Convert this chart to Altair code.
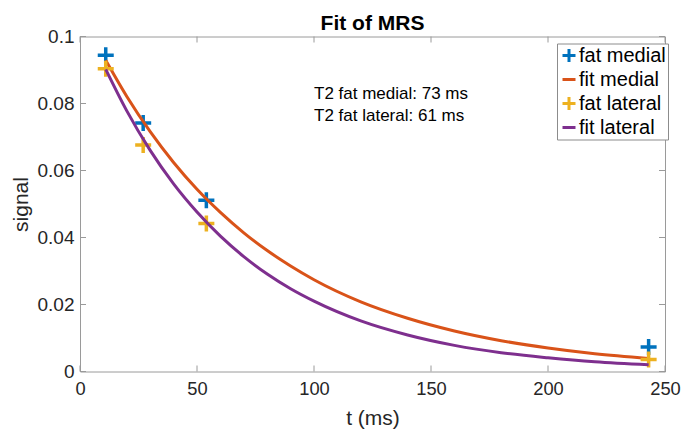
import altair as alt
import pandas as pd

# ---- data ----
t_meas = [11, 27, 54, 243]
fat_medial = [0.0944, 0.0742, 0.0511, 0.0073]
fat_lateral = [0.0904, 0.0676, 0.0442, 0.0036]

t_fit = [11, 20, 30, 40, 50, 60, 70, 80, 90, 100, 120, 140, 160, 180, 200, 220, 243]
fit_medial = [0.0929, 0.0821, 0.0716, 0.0624, 0.0544, 0.0475, 0.0414, 0.0361, 0.0315,
              0.0274, 0.0208, 0.0159, 0.0121, 0.0092, 0.0070, 0.0053, 0.0039]
fit_lateral = [0.0902, 0.0778, 0.0660, 0.0560, 0.0476, 0.0404, 0.0343, 0.0291, 0.0247,
               0.0210, 0.0151, 0.0109, 0.0078, 0.0056, 0.0041, 0.0029, 0.0020]

series_names = ["fat medial", "fit medial", "fat lateral", "fit lateral"]
series_colors = ["#0072BD", "#D95319", "#EDB120", "#7E2F8E"]

x_ticks = [0, 50, 100, 150, 200, 250]
y_ticks = [0, 0.02, 0.04, 0.06, 0.08, 0.1]
annotation_lines = ["T2 fat medial: 73 ms", "T2 fat lateral: 61 ms"]
annotation_pos = {"t": 100, "signal": 0.08}
title_text = "Fit of MRS"

# ---- tables ----
pts_med = pd.DataFrame({"t": t_meas, "signal": fat_medial, "series": series_names[0]})
fit_med = pd.DataFrame({"t": t_fit, "signal": fit_medial, "series": series_names[1]})
pts_lat = pd.DataFrame({"t": t_meas, "signal": fat_lateral, "series": series_names[2]})
fit_lat = pd.DataFrame({"t": t_fit, "signal": fit_lateral, "series": series_names[3]})
xt = pd.DataFrame({"t": x_ticks})
yt = pd.DataFrame({"signal": y_ticks})
ann = pd.DataFrame({"t": [annotation_pos["t"]], "signal": [annotation_pos["signal"]],
                    "label": ["\n".join(annotation_lines)]})

W, H = 585, 335
FONT = "Liberation Sans"
TXT = "#262626"
BOX = "#9a9a9a"
PLUS = "M-1,0L1,0M0,-1L0,1"
DASH = "M-1,0L1,0"

xscale = alt.Scale(domain=[0, 250], nice=False, zero=False)
yscale = alt.Scale(domain=[0, 0.1], nice=False, zero=False)

xaxis = alt.Axis(values=x_ticks, title="t (ms)", labelFontSize=18.3, titleFontSize=21,
                 labelColor=TXT, titleColor=TXT, ticks=False, domain=False, grid=False,
                 labelPadding=9, titlePadding=10, labelFont=FONT, titleFont=FONT,
                 titleFontWeight="normal", labelFlush=False)
yaxis = alt.Axis(values=y_ticks, title="signal", format="~g", labelFontSize=19, titleFontSize=21,
                 labelColor=TXT, titleColor=TXT, ticks=False, domain=False, grid=False,
                 labelPadding=6, titlePadding=6, labelFont=FONT, titleFont=FONT,
                 titleFontWeight="normal", labelFlush=False)

color = alt.Color("series:N", scale=alt.Scale(domain=series_names, range=series_colors),
                  legend=alt.Legend(title=None))
shape = alt.Shape("series:N", scale=alt.Scale(domain=series_names, range=[PLUS, DASH, PLUS, DASH]),
                  legend=alt.Legend(title=None))

def points(df):
    return alt.Chart(df).mark_point(filled=False, size=256, strokeWidth=3.5, opacity=1).encode(
        x=alt.X("t:Q", scale=xscale, axis=xaxis),
        y=alt.Y("signal:Q", scale=yscale, axis=yaxis),
        color=color, shape=shape)

def curve(df):
    return alt.Chart(df).mark_line(strokeWidth=3, interpolate="monotone").encode(
        x=alt.X("t:Q", scale=xscale, axis=xaxis),
        y=alt.Y("signal:Q", scale=yscale, axis=yaxis),
        color=color)

# inward tick marks on all four sides of the box
xt_bottom = alt.Chart(xt).mark_rule(color=BOX, strokeWidth=1).encode(
    x=alt.X("t:Q", scale=xscale, axis=xaxis), y=alt.value(H), y2=alt.value(H - 6))
xt_top = alt.Chart(xt).mark_rule(color=BOX, strokeWidth=1).encode(
    x=alt.X("t:Q", scale=xscale, axis=xaxis), y=alt.value(0), y2=alt.value(6))
yt_left = alt.Chart(yt).mark_rule(color=BOX, strokeWidth=1).encode(
    y=alt.Y("signal:Q", scale=yscale, axis=yaxis), x=alt.value(0), x2=alt.value(6))
yt_right = alt.Chart(yt).mark_rule(color=BOX, strokeWidth=1).encode(
    y=alt.Y("signal:Q", scale=yscale, axis=yaxis), x=alt.value(W), x2=alt.value(W - 6))

text = alt.Chart(ann).mark_text(align="left", baseline="middle", fontSize=17, font=FONT,
                                color="black", lineBreak="\n", lineHeight=22, dy=-10).encode(
    x=alt.X("t:Q", scale=xscale, axis=xaxis),
    y=alt.Y("signal:Q", scale=yscale, axis=yaxis),
    text="label:N")

chart = alt.layer(
    xt_bottom, xt_top, yt_left, yt_right,
    points(pts_med), curve(fit_med), points(pts_lat), curve(fit_lat), text
).properties(
    width=W, height=H,
    title=alt.TitleParams(title_text, fontSize=21, font=FONT, fontWeight="bold", color="black",
                          anchor="middle", frame="group", offset=4, dy=10),
    autosize=alt.AutoSizeParams(type="none"),
    padding={"left": 72, "top": 28.5, "right": 16, "bottom": 60},
).configure_view(
    stroke=BOX, strokeWidth=1
).configure_legend(
    orient="none", legendX=477, legendY=7, padding=2, fillColor="white",
    strokeColor="#8c8c8c", strokeWidth=1, labelFontSize=20, labelFont=FONT,
    labelColor="black", symbolSize=169, symbolStrokeWidth=3, symbolOpacity=1,
    labelOffset=0, rowPadding=1, cornerRadius=0
)

chart.save("out.html", embed_options={"renderer": "svg", "actions": False})
